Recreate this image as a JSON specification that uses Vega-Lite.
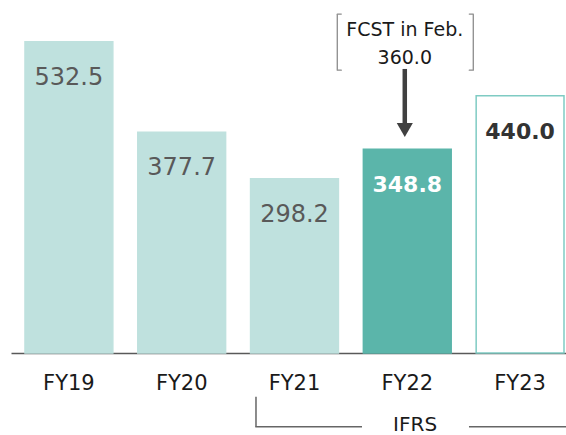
{
  "$schema": "https://vega.github.io/schema/vega-lite/v6.json",
  "width": 555,
  "height": 353,
  "autosize": {"type": "none"},
  "padding": {"left": 11, "top": 0, "right": 0, "bottom": 82},
  "background": "#ffffff",
  "config": {"view": {"stroke": null}, "font": "DejaVu Sans"},
  "datasets": {
    "fy": [
      {"year": "FY19", "value": 532.5, "kind": "actual"},
      {"year": "FY20", "value": 377.7, "kind": "actual"},
      {"year": "FY21", "value": 298.2, "kind": "actual"},
      {"year": "FY22", "value": 348.8, "kind": "current"},
      {"year": "FY23", "value": 440.0, "kind": "forecast"}
    ],
    "note": [{"year": "FY22", "fcst": 360.0}],
    "ifrs": [{"from": "FY21", "to": "FY23", "label": "IFRS"}]
  },
  "data": {"name": "fy"},
  "encoding": {
    "x": {
      "field": "year", "type": "nominal", "sort": null,
      "scale": {"domain": ["FY19", "FY20", "FY21", "FY22", "FY23"], "paddingInner": 0.2212, "paddingOuter": 0.0708, "align": 0.875},
      "axis": {
        "title": null, "ticks": false, "tickSize": 0, "labelAngle": 0,
        "labelFontSize": 21, "labelColor": "#1a1a1a", "labelFont": "DejaVu Sans",
        "labelBaseline": "middle", "labelPadding": 30,
        "domainColor": "#595959", "domainWidth": 1.5, "grid": false
      }
    }
  },
  "layer": [
    {
      "mark": {"type": "bar", "strokeWidth": 1.5},
      "encoding": {
        "y": {"field": "value", "type": "quantitative", "scale": {"domain": [0, 604], "nice": false}, "axis": null},
        "color": {"field": "kind", "type": "nominal", "legend": null,
          "scale": {"domain": ["actual", "current", "forecast"], "range": ["#bfe1de", "#5bb5aa", "#ffffff"]}},
        "stroke": {"field": "kind", "type": "nominal", "legend": null,
          "scale": {"domain": ["actual", "current", "forecast"], "range": ["#bfe1de", "#5bb5aa", "#7fcbc3"]}}
      }
    },
    {
      "transform": [{"filter": "datum.kind === 'actual'"}],
      "mark": {"type": "text", "baseline": "middle", "align": "center", "dy": 36, "fontSize": 24, "font": "DejaVu Sans", "color": "#595959"},
      "encoding": {
        "y": {"field": "value", "type": "quantitative"},
        "text": {"field": "value", "type": "quantitative", "format": ".1f"}
      }
    },
    {
      "transform": [{"filter": "datum.kind !== 'actual'"}],
      "mark": {"type": "text", "baseline": "middle", "align": "center", "dy": 36, "fontSize": 22, "fontWeight": "bold", "font": "DejaVu Sans"},
      "encoding": {
        "y": {"field": "value", "type": "quantitative"},
        "text": {"field": "value", "type": "quantitative", "format": ".1f"},
        "color": {"condition": {"test": "datum.kind === 'current'", "value": "#ffffff"}, "value": "#333333"}
      }
    },
    {
      "data": {"name": "note"},
      "mark": {"type": "text", "text": "FCST in Feb.", "baseline": "middle", "align": "center", "dx": -2.5, "fontSize": 19, "font": "DejaVu Sans", "color": "#1a1a1a"},
      "encoding": {
        "x": {"field": "year", "type": "nominal"},
        "y": {"datum": 553.2, "type": "quantitative"}
      }
    },
    {
      "data": {"name": "note"},
      "mark": {"type": "text", "baseline": "middle", "align": "center", "dx": -2.5, "fontSize": 19, "font": "DejaVu Sans", "color": "#1a1a1a"},
      "encoding": {
        "x": {"field": "year", "type": "nominal"},
        "y": {"datum": 505, "type": "quantitative"},
        "text": {"field": "fcst", "type": "quantitative", "format": ".1f"}
      }
    },
    {
      "data": {"name": "note"},
      "mark": {"type": "rule", "strokeWidth": 4.5, "color": "#404040", "xOffset": -2.5},
      "encoding": {
        "x": {"field": "year", "type": "nominal"},
        "y": {"datum": 486, "type": "quantitative"},
        "y2": {"datum": 391.8}
      }
    },
    {
      "data": {"name": "note"},
      "mark": {"type": "point", "shape": "triangle-down", "size": 260, "filled": true, "opacity": 1, "color": "#404040", "xOffset": -2.5},
      "encoding": {
        "x": {"field": "year", "type": "nominal"},
        "y": {"datum": 381.6, "type": "quantitative"}
      }
    },
    {
      "data": {"name": "note"},
      "mark": {"type": "rule", "strokeWidth": 1.3, "color": "#8c8c8c", "xOffset": -70, "strokeCap": "round"},
      "encoding": {
        "x": {"field": "year", "type": "nominal"},
        "y": {"datum": 579, "type": "quantitative"},
        "y2": {"datum": 485}
      }
    },
    {
      "data": {"name": "note"},
      "mark": {"type": "rule", "strokeWidth": 1.3, "color": "#8c8c8c", "xOffset": 66, "strokeCap": "round"},
      "encoding": {
        "x": {"field": "year", "type": "nominal"},
        "y": {"datum": 579, "type": "quantitative"},
        "y2": {"datum": 485}
      }
    },
    {
      "data": {"name": "note"},
      "mark": {"type": "rule", "strokeWidth": 1.3, "color": "#8c8c8c", "xOffset": -70, "x2Offset": -66, "strokeCap": "round"},
      "encoding": {
        "x": {"field": "year", "type": "nominal"},
        "x2": {"field": "year"},
        "y": {"datum": 580, "type": "quantitative"}
      }
    },
    {
      "data": {"name": "note"},
      "mark": {"type": "rule", "strokeWidth": 1.3, "color": "#8c8c8c", "xOffset": -70, "x2Offset": -66, "strokeCap": "round"},
      "encoding": {
        "x": {"field": "year", "type": "nominal"},
        "x2": {"field": "year"},
        "y": {"datum": 484, "type": "quantitative"}
      }
    },
    {
      "data": {"name": "note"},
      "mark": {"type": "rule", "strokeWidth": 1.3, "color": "#8c8c8c", "xOffset": 62, "x2Offset": 66, "strokeCap": "round"},
      "encoding": {
        "x": {"field": "year", "type": "nominal"},
        "x2": {"field": "year"},
        "y": {"datum": 580, "type": "quantitative"}
      }
    },
    {
      "data": {"name": "note"},
      "mark": {"type": "rule", "strokeWidth": 1.3, "color": "#8c8c8c", "xOffset": 62, "x2Offset": 66, "strokeCap": "round"},
      "encoding": {
        "x": {"field": "year", "type": "nominal"},
        "x2": {"field": "year"},
        "y": {"datum": 484, "type": "quantitative"}
      }
    },
    {
      "data": {"name": "ifrs"},
      "mark": {"type": "rule", "strokeWidth": 1.5, "color": "#666666", "xOffset": -38.5},
      "encoding": {
        "x": {"field": "from", "type": "nominal"},
        "y": {"datum": -74.8, "type": "quantitative"},
        "y2": {"datum": -126.1}
      }
    },
    {
      "data": {"name": "ifrs"},
      "mark": {"type": "rule", "strokeWidth": 1.5, "color": "#666666", "xOffset": -39.2, "x2Offset": 67.5},
      "encoding": {
        "x": {"field": "from", "type": "nominal"},
        "x2": {"field": "from"},
        "y": {"datum": -126.1, "type": "quantitative"}
      }
    },
    {
      "data": {"name": "ifrs"},
      "mark": {"type": "rule", "strokeWidth": 1.5, "color": "#666666", "xOffset": -51.1, "x2Offset": 46},
      "encoding": {
        "x": {"field": "to", "type": "nominal"},
        "x2": {"field": "to"},
        "y": {"datum": -126.1, "type": "quantitative"}
      }
    },
    {
      "data": {"name": "ifrs"},
      "mark": {"type": "text", "baseline": "middle", "align": "center", "dx": -105, "fontSize": 20, "font": "DejaVu Sans", "color": "#1a1a1a"},
      "encoding": {
        "x": {"field": "to", "type": "nominal"},
        "y": {"datum": -122.5, "type": "quantitative"},
        "text": {"field": "label", "type": "nominal"}
      }
    }
  ]
}
